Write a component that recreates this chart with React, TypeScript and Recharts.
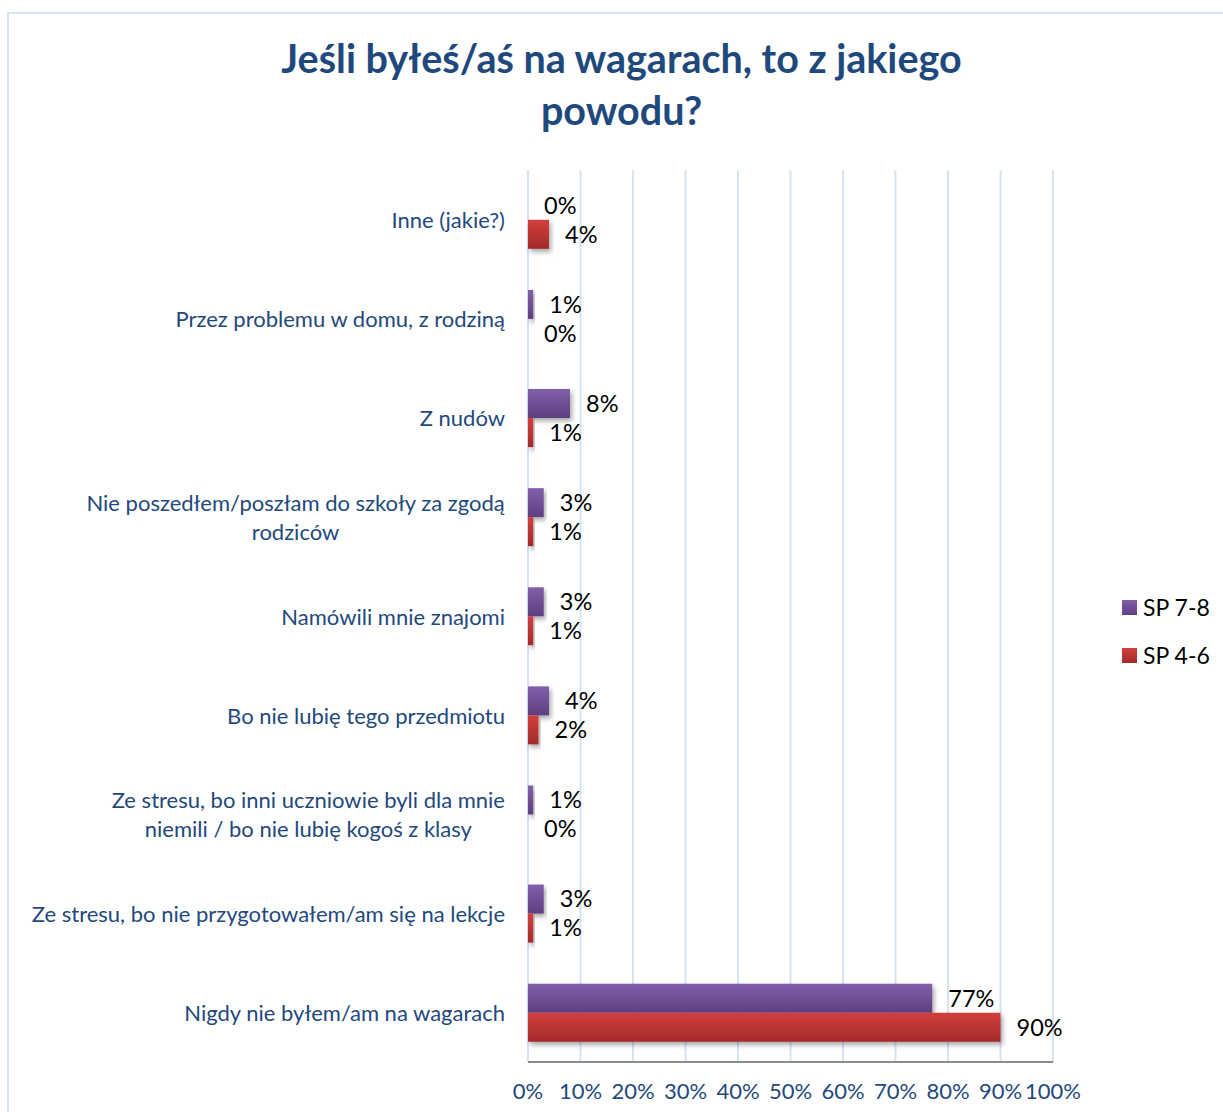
import React from 'react';
import {
  BarChart,
  Bar,
  XAxis,
  YAxis,
  CartesianGrid,
  LabelList,
} from 'recharts';

const categories = [
  'Inne (jakie?)',
  'Przez problemu w domu, z rodziną',
  'Z nudów',
  'Nie poszedłem/poszłam do szkoły za zgodą\nrodziców',
  'Namówili mnie znajomi',
  'Bo nie lubię tego przedmiotu',
  'Ze stresu, bo inni uczniowie byli dla mnie\nniemili / bo nie lubię kogoś z klasy',
  'Ze stresu, bo nie przygotowałem/am się na lekcje',
  'Nigdy nie byłem/am na wagarach',
];

const sp78 = [0, 1, 8, 3, 3, 4, 1, 3, 77];
const sp46 = [4, 0, 1, 1, 1, 2, 0, 1, 90];

const xTicks = [0, 10, 20, 30, 40, 50, 60, 70, 80, 90, 100];

const FONT = 'Lato, "Open Sans", sans-serif';
const BLUE_TEXT = '#1f497d';

const data = categories.map((name, i) => ({ name, sp78: sp78[i], sp46: sp46[i] }));

let measureCtx: CanvasRenderingContext2D | null = null;
const textWidth = (s: string, font: string) => {
  if (!measureCtx) measureCtx = document.createElement('canvas').getContext('2d');
  if (!measureCtx) return s.length * 11;
  measureCtx.font = font;
  return measureCtx.measureText(s).width;
};

const CategoryTick = (props: any) => {
  const { x, y, payload } = props;
  const lines: string[] = String(payload.value).split('\n');
  if (lines.length === 1) {
    return (
      <text x={x} y={y} textAnchor="end" dominantBaseline="central" fill={BLUE_TEXT} fontSize={22} fontFamily={FONT}>
        {lines[0]}
      </text>
    );
  }
  const w = Math.max(...lines.map((l) => textWidth(l, `22px ${FONT}`)));
  const cx = x - w / 2;
  const lh = 29;
  return (
    <g>
      {lines.map((l, i) => (
        <text
          key={i}
          x={cx}
          y={y + (i - (lines.length - 1) / 2) * lh}
          textAnchor="middle"
          dominantBaseline="central"
          fill={BLUE_TEXT}
          fontSize={22}
          fontFamily={FONT}
        >
          {l}
        </text>
      ))}
    </g>
  );
};

const legendItems = [
  { label: 'SP 7-8', c1: '#8060aa', c2: '#5d3f80' },
  { label: 'SP 4-6', c1: '#d23f3c', c2: '#a32a2a' },
];

export default function App() {
  return (
    <div style={{ position: 'absolute', left: 0, top: 0, width: 1223, height: 1112, overflow: 'hidden', background: '#fff' }}>
      <div
        style={{
          position: 'absolute',
          left: 7,
          top: 12,
          width: 1260,
          height: 1150,
          border: '2px solid #d6e3f3',
        }}
      />
      <div
        style={{
          position: 'absolute',
          left: 0,
          top: 32,
          width: 1243,
          textAlign: 'center',
          fontFamily: FONT,
          fontWeight: 700,
          fontSize: 39.5,
          lineHeight: '52px',
          color: BLUE_TEXT,
        }}
      >
        Jeśli byłeś/aś na wagarach, to z jakiego
        <br />
        powodu?
      </div>
      <div style={{ position: 'absolute', left: 0, top: 0 }}>
        <BarChart
          width={1223}
          height={1112}
          data={data}
          layout="vertical"
          margin={{ top: 170, right: 170, bottom: 10, left: 0 }}
          barCategoryGap="21%"
          barGap={0}
        >
          <defs>
            <linearGradient id="gPurple" x1="0" y1="0" x2="0" y2="1">
              <stop offset="0%" stopColor="#8060aa" />
              <stop offset="100%" stopColor="#5d3f80" />
            </linearGradient>
            <linearGradient id="gRed" x1="0" y1="0" x2="0" y2="1">
              <stop offset="0%" stopColor="#d23f3c" />
              <stop offset="100%" stopColor="#a32a2a" />
            </linearGradient>
            <filter id="shadow" x="-10%" y="-20%" width="130%" height="160%">
              <feDropShadow dx="2" dy="3" stdDeviation="2.5" floodColor="#000" floodOpacity="0.35" />
            </filter>
          </defs>
          <CartesianGrid horizontal={false} stroke="#d6e3f3" strokeWidth={2} />
          <XAxis
            type="number"
            domain={[0, 100]}
            ticks={xTicks}
            tickFormatter={(v) => `${v}%`}
            tickLine={false}
            axisLine={{ stroke: '#8c8c8c', strokeWidth: 2 }}
            tick={{ fill: BLUE_TEXT, fontSize: 22, fontFamily: FONT }}
            tickMargin={15}
            height={40}
            interval={0}
          />
          <YAxis
            type="category"
            dataKey="name"
            width={528}
            axisLine={false}
            tickLine={false}
            tickMargin={17}
            tick={<CategoryTick />}
            interval={0}
          />
          <Bar dataKey="sp78" name="SP 7-8" fill="url(#gPurple)" filter="url(#shadow)" minPointSize={0.01} isAnimationActive={false}>
            <LabelList
              dataKey="sp78"
              position="right"
              offset={16}
              formatter={(v: any) => `${v}%`}
              fill="#000"
              fontSize={23.5}
              fontFamily={FONT}
            />
          </Bar>
          <Bar dataKey="sp46" name="SP 4-6" fill="url(#gRed)" filter="url(#shadow)" minPointSize={0.01} isAnimationActive={false}>
            <LabelList
              dataKey="sp46"
              position="right"
              offset={16}
              formatter={(v: any) => `${v}%`}
              fill="#000"
              fontSize={23.5}
              fontFamily={FONT}
            />
          </Bar>
        </BarChart>
      </div>
      <div style={{ position: 'absolute', left: 1122, top: 583, fontFamily: FONT, fontSize: 23, color: '#000' }}>
        {legendItems.map((it) => (
          <div key={it.label} style={{ display: 'flex', alignItems: 'center', height: 48 }}>
            <span
              style={{
                display: 'inline-block',
                width: 15,
                height: 15,
                marginRight: 6,
                background: `linear-gradient(${it.c1}, ${it.c2})`,
              }}
            />
            {it.label}
          </div>
        ))}
      </div>
    </div>
  );
}
